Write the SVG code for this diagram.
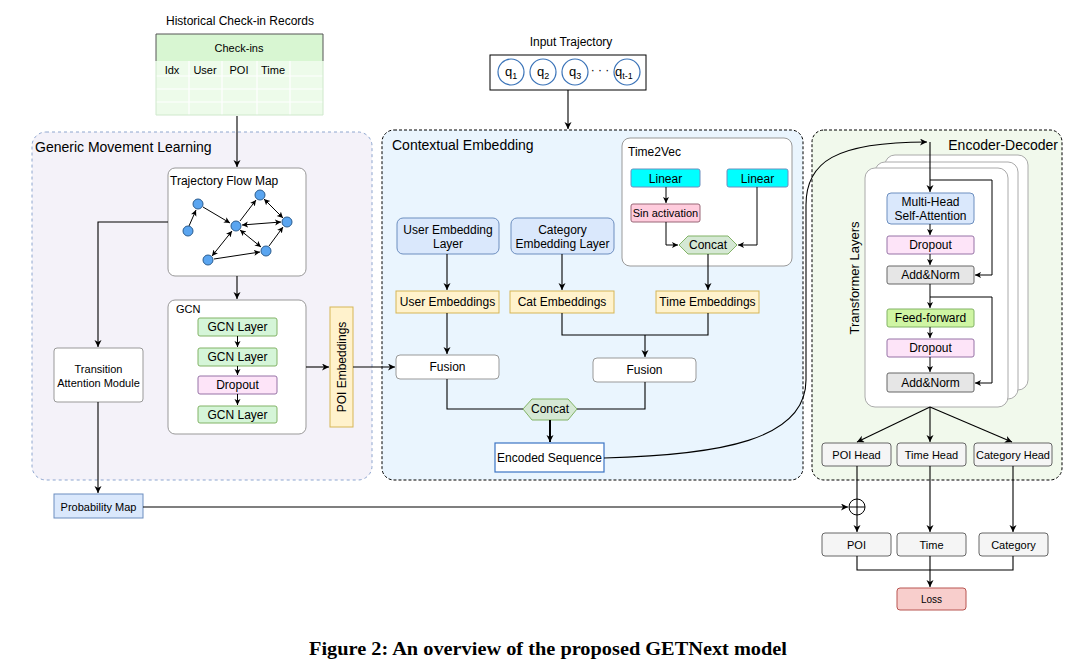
<svg xmlns="http://www.w3.org/2000/svg" width="1087" height="671" viewBox="0 0 1087 671">
<defs>
<marker id="arr" markerWidth="8" markerHeight="8" refX="7" refY="3.5" orient="auto-start-reverse" markerUnits="userSpaceOnUse">
<path d="M0,0 L7,3.5 L0,7 L2,3.5 z" fill="#000"/>
</marker>
<marker id="arrs" markerWidth="7" markerHeight="7" refX="6" refY="3" orient="auto-start-reverse" markerUnits="userSpaceOnUse">
<path d="M0,0 L6,3 L0,6 L1.5,3 z" fill="#000"/>
</marker>
<style>
text{font-family:"Liberation Sans",Arial,sans-serif;fill:#000}
.c{text-anchor:middle}
.f12{font-size:12px}
.f11{font-size:11px}
.f13{font-size:13px}
.f14{font-size:14px}
.ln{fill:none;stroke:#000;stroke-width:1.1}
.la{fill:none;stroke:#000;stroke-width:1.1;marker-end:url(#arr)}
.ls{fill:none;stroke:#000;stroke-width:1;marker-end:url(#arrs)}
.lb{fill:none;stroke:#000;stroke-width:1;marker-end:url(#arrs);marker-start:url(#arrs)}
.wbox{fill:#fff;stroke:#999;stroke-width:1}
.blue{fill:#dae8fc;stroke:#6c8ebf;stroke-width:1}
.yel{fill:#fff2cc;stroke:#d6b656;stroke-width:1}
.grn{fill:#d5f5d8;stroke:#82b366;stroke-width:1}
.pink{fill:#fde4f8;stroke:#9673a6;stroke-width:1}
.gray{fill:#e6e6e6;stroke:#666;stroke-width:1}
.lgray{fill:#f5f5f5;stroke:#666;stroke-width:1}
.cyan{fill:#00ffff;stroke:#6c8ebf;stroke-width:1}
.hex{fill:#d5e8d4;stroke:#82b366;stroke-width:1}
.node{fill:#5aa5f0;stroke:#2c5d8f;stroke-width:1}
.q{fill:#fff;stroke:#3a73b8;stroke-width:1.2}
</style>
</defs>
<rect width="1087" height="671" fill="#fff"/>

<!-- containers -->
<g id="generic-movement-learning">
<rect x="32" y="132" width="340" height="348" rx="14" fill="#f4f2f9" stroke="#8ea6cf" stroke-width="1" stroke-dasharray="3,3"/>
<text x="35" y="152" class="f14">Generic Movement Learning</text>
</g>
<g id="contextual-embedding">
<rect x="382" y="130" width="421" height="350" rx="12" fill="#eaf5fe" stroke="#000" stroke-width="1" stroke-dasharray="3,2"/>
<text x="392" y="150" class="f14">Contextual Embedding</text>
</g>
<g id="encoder-decoder">
<rect x="812" y="130" width="250" height="350" rx="12" fill="#f1f9ec" stroke="#000" stroke-width="1" stroke-dasharray="3,2"/>
<text x="1058" y="150" class="f14" text-anchor="end">Encoder-Decoder</text>
</g>

<!-- table -->
<g id="checkin-records">
<text x="240" y="25" class="c f12">Historical Check-in Records</text>
<rect x="156" y="34" width="167" height="27" fill="#d8f6d2"/>
<rect x="156" y="61" width="167" height="54" fill="#edfbea"/>
<path d="M156,61 V34 H323 V61" fill="none" stroke="#555" stroke-width="1"/>
<g stroke="#fff" stroke-width="1.2">
<line x1="156" y1="76" x2="323" y2="76"/>
<line x1="156" y1="89" x2="323" y2="89"/>
<line x1="156" y1="102" x2="323" y2="102"/>
<line x1="189" y1="61" x2="189" y2="115"/>
<line x1="222" y1="61" x2="222" y2="115"/>
<line x1="257" y1="61" x2="257" y2="115"/>
<line x1="290" y1="61" x2="290" y2="115"/>
</g>
<path d="M156,61 V115 H323 V61" fill="none" stroke="#cfe8cc" stroke-width="1"/>
<text x="239" y="52" class="c f11">Check-ins</text>
<text x="172" y="74" class="c f11">Idx</text>
<text x="205" y="74" class="c f11">User</text>
<text x="239" y="74" class="c f11">POI</text>
<text x="273" y="74" class="c f11">Time</text>
</g>

<!-- input trajectory -->
<g id="input-trajectory">
<text x="571" y="46" class="c f12">Input Trajectory</text>
<rect x="490" y="55" width="156" height="35" fill="#fff" stroke="#000" stroke-width="1"/>
<circle cx="511" cy="72" r="13" class="q"/>
<circle cx="543" cy="72" r="13" class="q"/>
<circle cx="575" cy="72" r="13" class="q"/>
<circle cx="627" cy="72" r="13" class="q"/>
<text x="505" y="76" class="f13">q<tspan font-size="9" dy="3">1</tspan></text>
<text x="537" y="76" class="f13">q<tspan font-size="9" dy="3">2</tspan></text>
<text x="569" y="76" class="f13">q<tspan font-size="9" dy="3">3</tspan></text>
<text x="615" y="76" class="f13">q<tspan font-size="9" dy="3">t-1</tspan></text>
<text x="600" y="74" class="c f12">· · ·</text>
</g>

<!-- Trajectory flow map -->
<g id="trajectory-flow-map">
<rect x="168" y="168" width="138" height="108" rx="7" class="wbox"/>
<text x="170" y="185" class="f12">Trajectory Flow Map</text>
<g>
<line x1="189" y1="226" x2="196" y2="210" class="ls"/>
<line x1="203" y1="207" x2="230" y2="223" class="ls"/>
<line x1="240" y1="221" x2="256" y2="200" class="ls"/>
<line x1="264" y1="199" x2="283" y2="218" class="lb"/>
<line x1="242" y1="225" x2="281" y2="222" class="lb"/>
<line x1="269" y1="246" x2="283" y2="227" class="ls"/>
<line x1="240" y1="230" x2="261" y2="247" class="lb"/>
<line x1="212" y1="256" x2="232" y2="231" class="lb"/>
<line x1="214" y1="259" x2="260" y2="252" class="ls"/>
<circle cx="198" cy="204" r="5" class="node"/>
<circle cx="188" cy="231" r="5" class="node"/>
<circle cx="236" cy="226" r="5" class="node"/>
<circle cx="260" cy="195" r="5" class="node"/>
<circle cx="287" cy="222" r="5" class="node"/>
<circle cx="266" cy="251" r="5" class="node"/>
<circle cx="208" cy="260" r="5" class="node"/>
</g>
</g>

<!-- GCN -->
<g id="gcn">
<rect x="168" y="300" width="138" height="134" rx="7" class="wbox"/>
<text x="176" y="313" class="f11">GCN</text>
<rect x="198" y="318" width="79" height="18" rx="2" class="grn"/>
<text x="237.5" y="331" class="c f12">GCN Layer</text>
<rect x="198" y="348" width="79" height="18" rx="2" class="grn"/>
<text x="237.5" y="361" class="c f12">GCN Layer</text>
<rect x="198" y="376" width="79" height="18" rx="2" class="pink"/>
<text x="237.5" y="389" class="c f12">Dropout</text>
<rect x="198" y="406" width="79" height="17" rx="2" class="grn"/>
<text x="237.5" y="419" class="c f12">GCN Layer</text>
</g>

<g id="transition-attention-module">
<rect x="54" y="348" width="89" height="54" rx="3" class="wbox"/>
<text x="98.5" y="373" class="c f11">Transition</text>
<text x="98.5" y="387" class="c f11">Attention Module</text>
</g>

<g id="probability-map">
<rect x="54" y="494" width="89" height="24" class="blue"/>
<text x="98.5" y="511" class="c f11" fill="#333">Probability Map</text>
</g>

<g id="poi-embeddings">
<rect x="330" y="307" width="23" height="120" class="yel"/>
<text transform="translate(346,367) rotate(-90)" class="c f12">POI Embeddings</text>
</g>

<!-- Contextual embedding nodes -->
<g id="user-embedding-layer">
<rect x="397" y="218" width="102" height="36" rx="6" class="blue"/>
<text x="448" y="234" class="c f12">User Embedding</text>
<text x="448" y="248" class="c f12">Layer</text>
</g>
<g id="category-embedding-layer">
<rect x="511" y="218" width="103" height="36" rx="6" class="blue"/>
<text x="562.5" y="234" class="c f12">Category</text>
<text x="562.5" y="248" class="c f12">Embedding Layer</text>
</g>

<g id="time2vec">
<rect x="622" y="138" width="170" height="128" rx="8" class="wbox"/>
<text x="628" y="156" class="f12">Time2Vec</text>
<rect x="631" y="169" width="69" height="18" rx="2" class="cyan"/>
<text x="665.5" y="183" class="c f12">Linear</text>
<rect x="727" y="169" width="61" height="18" rx="2" class="cyan"/>
<text x="757.5" y="183" class="c f12">Linear</text>
<rect x="631" y="204" width="69" height="18" rx="2" fill="#ffccdd" stroke="#996677" stroke-width="1"/>
<text x="665.5" y="217" class="c f11" fill="#333">Sin activation</text>
<polygon points="679,245 688,236 728,236 737,245 728,254 688,254" class="hex"/>
<text x="708" y="249" class="c f12">Concat</text>
</g>

<g id="user-embeddings">
<rect x="396" y="291" width="103" height="22" class="yel"/>
<text x="447.5" y="306" class="c f12">User Embeddings</text>
</g>
<g id="cat-embeddings">
<rect x="510" y="291" width="104" height="22" class="yel"/>
<text x="562" y="306" class="c f12">Cat Embeddings</text>
</g>
<g id="time-embeddings">
<rect x="656" y="291" width="103" height="22" class="yel"/>
<text x="707.5" y="306" class="c f12">Time Embeddings</text>
</g>

<g id="fusion-1">
<rect x="396" y="355" width="103" height="24" rx="4" class="wbox"/>
<text x="447.5" y="371" class="c f12">Fusion</text>
</g>
<g id="fusion-2">
<rect x="593" y="358" width="103" height="24" rx="4" class="wbox"/>
<text x="644.5" y="374" class="c f12">Fusion</text>
</g>

<g id="concat">
<polygon points="523,409 532,399 568,399 577,409 568,420 532,420" class="hex"/>
<text x="550" y="413" class="c f12">Concat</text>
</g>

<g id="encoded-sequence">
<rect x="495" y="443" width="109" height="29" fill="#fff" stroke="#3b74c4" stroke-width="1.2"/>
<text x="549.5" y="462" class="c f12">Encoded Sequence</text>
</g>

<!-- Transformer -->
<g id="transformer-layers">
<rect x="885" y="155" width="143" height="235" rx="10" fill="#fff" stroke="#aaa" stroke-width="1"/>
<rect x="875" y="162" width="143" height="237" rx="10" fill="#fff" stroke="#aaa" stroke-width="1"/>
<rect x="865" y="168" width="143" height="239" rx="10" fill="#fff" stroke="#aaa" stroke-width="1"/>
<text transform="translate(859,278) rotate(-90)" class="c f13">Transformer Layers</text>
<rect x="887" y="193" width="87" height="31" rx="4" class="blue"/>
<text x="930.5" y="206" class="c f12">Multi-Head</text>
<text x="930.5" y="220" class="c f12">Self-Attention</text>
<rect x="887" y="236" width="87" height="18" rx="2" class="pink"/>
<text x="930.5" y="249" class="c f12">Dropout</text>
<rect x="887" y="266" width="87" height="18" rx="2" class="gray"/>
<text x="930.5" y="279" class="c f12" fill="#333">Add&amp;Norm</text>
<rect x="887" y="309" width="87" height="18" rx="2" fill="#cff5a3" stroke="#82b366" stroke-width="1"/>
<text x="930.5" y="322" class="c f12">Feed-forward</text>
<rect x="887" y="339" width="87" height="18" rx="2" class="pink"/>
<text x="930.5" y="352" class="c f12">Dropout</text>
<rect x="887" y="373" width="87" height="19" rx="2" class="gray"/>
<text x="930.5" y="387" class="c f12" fill="#333">Add&amp;Norm</text>
</g>

<g id="poi-head">
<rect x="822" y="443" width="69" height="23" rx="3" class="lgray"/>
<text x="856.5" y="459" class="c f11" fill="#333">POI Head</text>
</g>
<g id="time-head">
<rect x="897" y="443" width="69" height="23" rx="3" class="lgray"/>
<text x="931.5" y="459" class="c f11" fill="#333">Time Head</text>
</g>
<g id="category-head">
<rect x="974" y="443" width="78" height="23" rx="3" class="lgray"/>
<text x="1013" y="459" class="c f11" fill="#333">Category Head</text>
</g>

<g id="plus">
<circle cx="857" cy="507" r="8" fill="none" stroke="#000" stroke-width="1"/>
<line x1="849" y1="507" x2="865" y2="507" stroke="#000" stroke-width="1"/>
</g>

<g id="poi">
<rect x="822" y="533" width="69" height="23" rx="3" class="lgray"/>
<text x="856.5" y="549" class="c f11" fill="#333">POI</text>
</g>
<g id="time">
<rect x="897" y="533" width="69" height="23" rx="3" class="lgray"/>
<text x="931.5" y="549" class="c f11" fill="#333">Time</text>
</g>
<g id="category">
<rect x="979" y="533" width="69" height="23" rx="3" class="lgray"/>
<text x="1013.5" y="549" class="c f11" fill="#333">Category</text>
</g>
<g id="loss">
<rect x="897" y="588" width="69" height="22" rx="3" fill="#f8cecc" stroke="#b85450" stroke-width="1"/>
<text x="931.5" y="603" class="c" font-size="10" fill="#333">Loss</text>
</g>

<!-- connectors -->
<g id="connectors">
<line x1="237" y1="116" x2="237" y2="167" class="la"/>
<line x1="568" y1="90" x2="568" y2="129" class="la"/>
<line x1="237" y1="276" x2="237" y2="299" class="la"/>
<path d="M168,222 H98 V347" class="la"/>
<line x1="98" y1="402" x2="98" y2="493" class="la"/>
<line x1="237.5" y1="336" x2="237.5" y2="347" class="ls"/>
<line x1="237.5" y1="366" x2="237.5" y2="375" class="ls"/>
<line x1="237.5" y1="394" x2="237.5" y2="405" class="ls"/>
<line x1="306" y1="367" x2="329" y2="367" class="la"/>
<line x1="353" y1="367" x2="395" y2="367" class="la"/>
<line x1="447" y1="254" x2="447" y2="290" class="la"/>
<line x1="562" y1="254" x2="562" y2="290" class="la"/>
<line x1="666" y1="187" x2="666" y2="203" class="ls"/>
<path d="M666,222 V245 H678" class="ls"/>
<path d="M757,187 V245 H738" class="ls"/>
<line x1="708" y1="254" x2="708" y2="290" class="la"/>
<line x1="447" y1="313" x2="447" y2="354" class="la"/>
<path d="M562,313 V335 H708 V313" class="ln"/>
<line x1="645" y1="335" x2="645" y2="357" class="la"/>
<path d="M447,379 V409 H523" class="ln"/>
<path d="M645,382 V409 H577" class="ln"/>
<line x1="550" y1="420" x2="550" y2="442" fill="none" stroke="#000" stroke-width="2" marker-end="url(#arr)"/>
<path d="M604,458 C720,455 806,440 806,380 L806,205 C806,162 835,142 927,142" class="la"/>
<line x1="930" y1="142" x2="930" y2="192" class="la"/>
<path d="M930,180 H992 V275 H975" class="ls"/>
<line x1="930" y1="224" x2="930" y2="235" class="ls"/>
<line x1="930" y1="254" x2="930" y2="265" class="ls"/>
<line x1="930" y1="284" x2="930" y2="308" class="ls"/>
<path d="M930,297 H992 V383 H975" class="ls"/>
<line x1="930" y1="327" x2="930" y2="338" class="ls"/>
<line x1="930" y1="357" x2="930" y2="372" class="ls"/>
<line x1="930" y1="407" x2="857" y2="442" class="la"/>
<line x1="930" y1="407" x2="930" y2="442" class="la"/>
<line x1="930" y1="407" x2="1012" y2="442" class="la"/>
<line x1="143" y1="507" x2="848" y2="507" class="la"/>
<line x1="857" y1="466" x2="857" y2="532" class="la"/>
<line x1="930" y1="466" x2="930" y2="532" class="la"/>
<line x1="1013" y1="466" x2="1013" y2="532" class="la"/>
<path d="M857,556 V570 H1013 V556" class="ln"/>
<line x1="930" y1="556" x2="930" y2="587" class="la"/>
</g>

<text x="548" y="655" class="c" textLength="478" lengthAdjust="spacingAndGlyphs" style="font-family:'Liberation Serif','Times New Roman',serif;font-weight:bold;font-size:19px">Figure 2: An overview of the proposed GETNext model</text>
</svg>
